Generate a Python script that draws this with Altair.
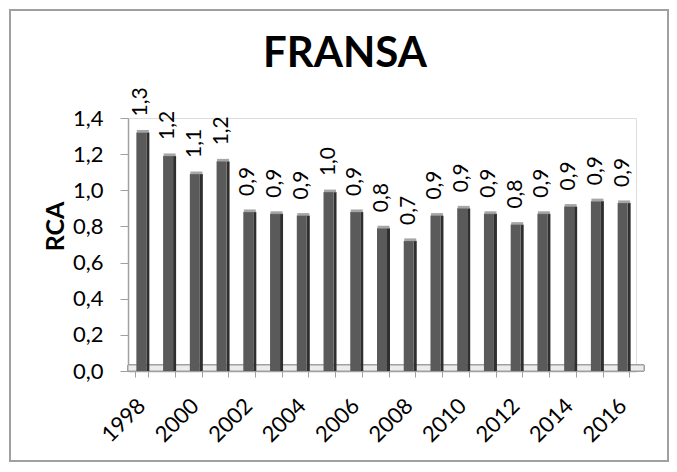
import altair as alt
import pandas as pd

years = list(range(1998, 2017))
rca = [1.32, 1.19, 1.09, 1.16, 0.88, 0.87, 0.86, 0.99, 0.88, 0.79, 0.72,
       0.86, 0.90, 0.87, 0.81, 0.87, 0.91, 0.94, 0.93]
y_ticks = [0.0, 0.2, 0.4, 0.6, 0.8, 1.0, 1.2, 1.4]

df = pd.DataFrame({"year": years, "rca": rca})

W, H = 508, 253
FONT = "Lato"

x_enc = alt.X(
    "year:O",
    title=None,
    scale=alt.Scale(paddingInner=0.5, paddingOuter=0.25),
    axis=alt.Axis(
        labelExpr="datum.value % 2 == 0 ? datum.label : ''",
        labelAngle=-45,
        labelAlign="right",
        labelBaseline="middle",
        labelFontSize=22,
        labelFont=FONT,
        labelColor="black",
        labelPadding=25,
        tickBand="extent",
        tickSize=6,
        tickColor="#a0a0a0",
        domainColor="#a0a0a0",
        domainWidth=1.5,
        grid=False,
    ),
)
y_enc = alt.Y(
    "rca:Q",
    scale=alt.Scale(domain=[0, 1.4], nice=False),
    axis=alt.Axis(
        values=y_ticks,
        labelExpr="replace(format(datum.value, '.1f'), '.', ',')",
        labelFontSize=22,
        labelFont=FONT,
        labelColor="black",
        labelPadding=17,
        tickSize=8,
        tickColor="#a0a0a0",
        domainColor="#a0a0a0",
        domainWidth=1.5,
        grid=False,
        title="RCA",
        titleFont=FONT,
        titleFontSize=25,
        titleFontWeight="bold",
        titleColor="black",
        titleAngle=270,
        titleAlign="center",
        titleBaseline="middle",
        titleX=-73,
        titleY=108,
    ),
)

base = alt.Chart(df)

border = base.mark_rect(fill=None, stroke="#a0a0a0", strokeWidth=2).encode(
    x=alt.value(-118), x2=alt.value(W + 32), y=alt.value(-108), y2=alt.value(H + 90)
)

floor = base.mark_rect(fill="#ececec", stroke="#a0a0a0", strokeWidth=1).encode(
    x=alt.value(0), x2=alt.value(W + 8), y=alt.value(H - 6), y2=alt.value(H)
)

side = base.mark_bar(size=3, xOffset=6.5, color="#2f2f2f").encode(x=x_enc, y=y_enc)
front = base.mark_bar(size=10, color="#5a5a5a").encode(x=x_enc, y=y_enc)
top = base.mark_tick(size=12, thickness=3, xOffset=1.5, yOffset=-1, color="#808080").encode(
    x=x_enc, y=y_enc
)

labels = base.transform_calculate(
    lab="replace(format(datum.rca, '.1f'), '.', ',')"
).mark_text(
    angle=270, align="left", baseline="middle", dx=16, fontSize=21, font=FONT, color="black"
).encode(x=x_enc, y=y_enc, text="lab:N")

chart = alt.layer(border, floor, side, front, top, labels).properties(
    width=W,
    height=H,
    title=alt.TitleParams(
        "FRANSA", font=FONT, fontSize=42, fontWeight="bold", color="black",
        anchor="middle", dx=-37, dy=100, offset=0, baseline="alphabetic",
    ),
    autosize=alt.AutoSizeParams(type="none"),
    padding={"left": 120, "top": 110, "right": 33, "bottom": 93},
).configure_view(stroke=None).configure(background="white")

chart.save("out.html", embed_options={"renderer": "svg", "actions": False})
